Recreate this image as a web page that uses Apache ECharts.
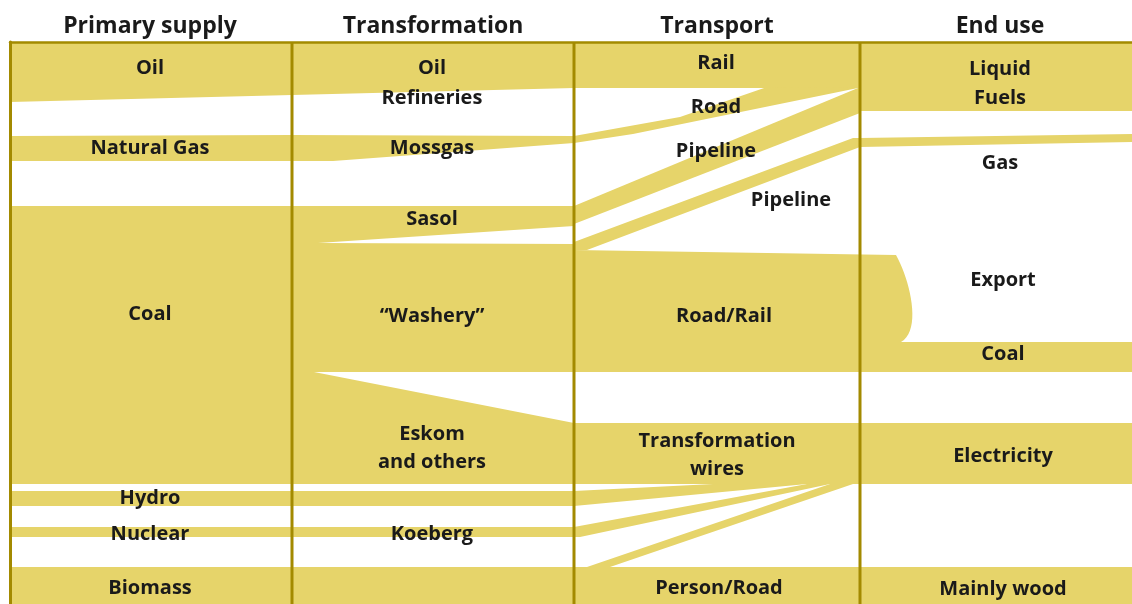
<!DOCTYPE html>
<html>
<head>
<meta charset="utf-8">
<title>Energy flows</title>
<script src="https://cdn.jsdelivr.net/npm/echarts@6/dist/echarts.min.js"></script>
<style>
  html, body { margin: 0; padding: 0; background: #fff; }
  #main { width: 1132px; height: 604px; }
</style>
</head>
<body>
<div id="main"></div>
<script>
// column headers and the dividers between the columns
const headers = ['Primary supply', 'Transformation', 'Transport', 'End use']
const headerX = [150, 433, 717, 1000]
const headerY = 25
const dividers = [292, 574, 860]

// flow bands as outlines [x, y]; points marked 'c' are curve control points
const oilBand = [[10, 42], [1132, 42], [1132, 111], [860, 111], [860, 88], [574, 88], [10, 102]]
const gasBand = [[10, 136], [292, 135], [574, 136], [680, 117], [767, 87], [858, 88], [633, 134], [574, 143], [333, 161], [10, 161]]
const coalBand = [[10, 206], [574, 206], [574, 226], [318, 243], [574, 244], [574, 372], [314, 372], [574, 423], [574, 484], [10, 484]]
const sasolFuelPipe = [[574, 206], [858, 88], [860, 88], [860, 113], [574, 224]]
const sasolGasPipe = [[574, 242], [853, 138], [860, 138], [1132, 134], [1132, 142], [860, 147], [587, 250], [574, 250]]
const coalRoadRail = [[574, 250], [896, 255], [910, 280, 'c'], [922, 330, 'c'], [901, 342], [1132, 342], [1132, 372], [574, 372]]
const electricity = [[574, 423], [1132, 423], [1132, 484], [574, 484]]
const hydroBand = [[10, 491], [574, 491], [713, 484], [807, 484], [574, 506], [10, 506]]
const nuclearBand = [[10, 527], [574, 527], [807, 484], [830, 484], [580, 537], [10, 537]]
const biomassWire = [[587, 567], [830, 484], [853, 484], [610, 567]]
const biomassBand = [[10, 567], [1132, 567], [1132, 604], [10, 604]]

// labels [text, x, y] per column
const supplyLabels = [['Oil', 150, 67], ['Natural Gas', 150, 147], ['Coal', 150, 313], ['Hydro', 150, 497], ['Nuclear', 150, 533], ['Biomass', 150, 587]]
const transformLabels = [['Oil', 432, 67], ['Refineries', 432, 97], ['Mossgas', 432, 147], ['Sasol', 432, 218], ['\u201cWashery\u201d', 432, 315], ['Eskom', 432, 433], ['and others', 432, 461], ['Koeberg', 432, 533]]
const transportLabels = [['Rail', 716, 62], ['Road', 716, 106], ['Pipeline', 716, 150], ['Pipeline', 791, 199], ['Road/Rail', 724, 315], ['Transformation', 717, 440], ['wires', 717, 468], ['Person/Road', 719, 587]]
const endUseLabels = [['Liquid', 1000, 68], ['Fuels', 1000, 97], ['Gas', 1000, 162], ['Export', 1003, 279], ['Coal', 1003, 353], ['Electricity', 1003, 455], ['Mainly wood', 1003, 588]]

const bands = [oilBand, gasBand, coalBand, sasolFuelPipe, sasolGasPipe, coalRoadRail, electricity, hydroBand, nuclearBand, biomassWire, biomassBand]
const labels = [...supplyLabels, ...transformLabels, ...transportLabels, ...endUseLabels]

const gold = '#a38a00'
const yellow = '#e6d46a'
const ink = '#1a1a1a'
const fontFamily = '"Open Sans", Lato, sans-serif'
const textNudge = 1.5 // middle baseline sits a little high in Open Sans

// outline -> pixel points, expanding cubic curve segments
const outline = (pts, api) => {
    let out = []
    let i = 0
    while (i < pts.length) {
        let p = pts[i]
        if (pts[i + 1] && pts[i + 1][2] === 'c') {
            let p0 = api.coord(p)
            let c1 = api.coord(pts[i + 1])
            let c2 = api.coord(pts[i + 2])
            let p3 = api.coord(pts[i + 3])
            for (let s = 0; s < 20; s++) {
                let t = s / 20, u = 1 - t
                out.push([
                    u * u * u * p0[0] + 3 * u * u * t * c1[0] + 3 * u * t * t * c2[0] + t * t * t * p3[0],
                    u * u * u * p0[1] + 3 * u * u * t * c1[1] + 3 * u * t * t * c2[1] + t * t * t * p3[1]
                ])
            }
            i += 3
        } else {
            out.push(api.coord(p))
            i++
        }
    }
    return out
}

let chart = echarts.init(document.getElementById('main'))
chart.setOption({
    animation: false,
    grid: { left: 10, right: 0, top: 42, bottom: 0 },
    xAxis: {
        type: 'value',
        min: 10,
        max: 1132,
        position: 'top',
        z: 5,
        axisLine: { show: true, lineStyle: { color: gold, width: 2.5 } },
        axisTick: { show: false },
        axisLabel: { show: false },
        splitLine: { show: false }
    },
    yAxis: {
        type: 'value',
        min: 42,
        max: 604,
        inverse: true,
        z: 5,
        axisLine: { show: true, lineStyle: { color: gold, width: 3 } },
        axisTick: { show: false },
        axisLabel: { show: false },
        splitLine: { show: false }
    },
    series: [
        {
            name: 'bands',
            type: 'custom',
            clip: false,
            z: 1,
            data: bands.map((b, i) => [b[0][0], b[0][1], i]),
            renderItem: (params, api) => ({
                type: 'polygon',
                shape: { points: outline(bands[params.dataIndex], api) },
                style: { fill: yellow }
            })
        },
        {
            name: 'dividers',
            type: 'custom',
            clip: false,
            z: 3,
            data: dividers.map(x => [x]),
            renderItem: (params, api) => {
                let a = api.coord([dividers[params.dataIndex], 42])
                let b = api.coord([dividers[params.dataIndex], 604])
                return {
                    type: 'line',
                    shape: { x1: a[0], y1: a[1], x2: b[0], y2: b[1] },
                    style: { stroke: gold, lineWidth: 3 }
                }
            }
        },
        {
            name: 'headers',
            type: 'custom',
            clip: false,
            z: 6,
            data: headerX.map(x => [x, headerY]),
            renderItem: (params, api) => {
                let p = api.coord([headerX[params.dataIndex], headerY])
                return {
                    type: 'text',
                    x: p[0],
                    y: p[1] + textNudge,
                    style: {
                        text: headers[params.dataIndex],
                        fill: ink,
                        fontSize: 23,
                        fontWeight: 'bold',
                        fontFamily: fontFamily,
                        align: 'center',
                        verticalAlign: 'middle'
                    }
                }
            }
        },
        {
            name: 'labels',
            type: 'custom',
            clip: false,
            z: 6,
            data: labels.map(l => [l[1], l[2]]),
            renderItem: (params, api) => {
                let l = labels[params.dataIndex]
                let p = api.coord([l[1], l[2]])
                return {
                    type: 'text',
                    x: p[0],
                    y: p[1] + textNudge,
                    style: {
                        text: l[0],
                        fill: ink,
                        fontSize: 20,
                        fontWeight: 'bold',
                        fontFamily: fontFamily,
                        align: 'center',
                        verticalAlign: 'middle'
                    }
                }
            }
        }
    ]
})
</script>
</body>
</html>
